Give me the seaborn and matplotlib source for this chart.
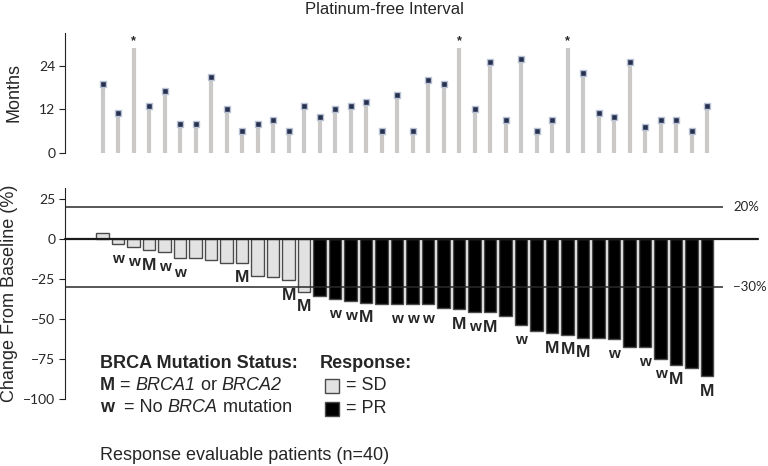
import numpy as np
import pandas as pd
import matplotlib
matplotlib.use('Agg')
import matplotlib.pyplot as plt
import seaborn as sns

# ===============================
# Data
# ===============================
patients = list(range(40))
pfi_months = [19, 11, 29, 13, 17, 8, 8, 21, 12, 6,
              8, 9, 6, 13, 10, 12, 13, 14, 6, 16,
              6, 20, 19, 29, 12, 25, 9, 26, 6, 9,
              29, 22, 11, 10, 25, 7, 9, 9, 6, 13]
pfi_ongoing = [i in (2, 23, 30) for i in patients]  # starred stems
change_pct = [4, -3, -5, -7, -8, -12, -12, -13, -15, -15,
              -23, -24, -26, -33, -36, -37.5, -39, -40, -41, -41,
              -41, -41, -43, -44, -46, -46, -48, -54, -58, -59,
              -60, -62, -62, -63, -68, -68, -75, -79, -81, -86]
response = ['SD'] * 14 + ['PR'] * 26
brca = ['', 'w', 'w', 'M', 'w', 'w', '', '', '', 'M',
        '', '', 'M', 'M', '', 'w', 'w', 'M', '', 'w',
        'w', 'w', '', 'M', 'w', 'M', '', 'w', '', 'M',
        'M', 'M', '', 'w', '', 'w', 'w', 'M', '', 'M']
ref_lines = [20, -30]
ref_labels = ['20%', '\u221230%']

df = pd.DataFrame({'patient': patients, 'pfi': pfi_months, 'ongoing': pfi_ongoing,
                   'change': change_pct, 'response': response, 'brca': brca})

# ===============================
# Style
# ===============================
sns.set_style('white')
plt.rcParams['font.family'] = ['Liberation Sans', 'DejaVu Sans']

W, H = 768, 466
fig = plt.figure(figsize=(W / 100, H / 100), dpi=100)
renderer = fig.canvas.get_renderer()

x_left, x_right = 65, 723
xlim = (-2.43, 40.02)

def px_axes(top, bottom):
    return fig.add_axes([x_left / W, 1 - bottom / H, (x_right - x_left) / W, (bottom - top) / H])

def rich_text(x_px, y_px, pieces, size=13):
    # draw text pieces one after another, each with its own style
    x = x_px
    for s, kw in pieces:
        t = fig.text(x / W, 1 - y_px / H, s, va='center', fontsize=size, **kw)
        x += t.get_window_extent(renderer).width

tick_font = {'family': ['Lato', 'DejaVu Sans'], 'size': 10}

# ===============================
# Top: platinum-free interval
# ===============================
ax1 = px_axes(33.3, 152.7)
ax1.vlines(df['patient'], 0, df['pfi'], color='#cbc8c8', linewidth=3)
marked = df[~df['ongoing']]
sns.scatterplot(data=marked, x='patient', y='pfi', marker='s', s=22, color='#27304f',
                edgecolor='#b9c3d6', linewidth=1, ax=ax1, zorder=3, legend=False)
for _, r in df[df['ongoing']].iterrows():
    ax1.text(r['patient'], r['pfi'] + 0.3, '*', ha='center', va='bottom', fontsize=9,
             fontweight='bold')
ax1.set_xlim(xlim)
ax1.set_ylim(0, 33)
ax1.set_yticks([0, 12, 24])
ax1.set_xticks([])
ax1.set_xlabel('')
ax1.set_ylabel('Months', fontsize=13, labelpad=12)
for s in ['top', 'right', 'bottom']:
    ax1.spines[s].set_visible(False)
ax1.spines['left'].set_color('#222222')
ax1.tick_params(axis='y', direction='out', length=4, left=True, color='#222222', pad=3)
for lab in ax1.get_yticklabels():
    lab.set_fontproperties(tick_font)
fig.text(384 / W, 1 - 10 / H, 'Platinum-free Interval', ha='center', va='center', fontsize=12)

# ===============================
# Bottom: waterfall of best response
# ===============================
ax2 = px_axes(188.3, 398.5)
sns.barplot(data=df, x='patient', y='change', hue='response',
            palette={'SD': '#e2e2e2', 'PR': '#000000'}, dodge=False, width=0.8,
            edgecolor='#4a4a4a', linewidth=1, legend=False, ax=ax2, zorder=2)
ax2.set_xlim(xlim)
ax2.set_ylim(-100, 31.7)
ax2.set_yticks([25, 0, -25, -50, -75, -100])
ax2.set_xticks([])
ax2.set_xlabel('')
ax2.set_ylabel('Change From Baseline (%)', fontsize=13, labelpad=4)
for s in ['top', 'right', 'bottom']:
    ax2.spines[s].set_visible(False)
ax2.spines['left'].set_color('#222222')
ax2.tick_params(axis='y', direction='out', length=4, left=True, color='#222222', pad=3)
for lab in ax2.get_yticklabels():
    lab.set_fontproperties(tick_font)

ax2.axhline(0, xmin=0, xmax=(758 - x_left) / (x_right - x_left), color='#1a1a1a',
            linewidth=1.6, clip_on=False, zorder=3)
for val, lab in zip(ref_lines, ref_labels):
    ax2.axhline(val, color='#2a2a2a', linewidth=1.1, zorder=3)
    ax2.text(1.0 + 10 / (x_right - x_left), val, lab, transform=ax2.get_yaxis_transform(),
             ha='left', va='center', fontsize=9.5, fontfamily=['Lato', 'DejaVu Sans'])

# BRCA labels below each bar
for _, r in df[df['brca'] != ''].iterrows():
    bold_m = r['brca'] == 'M'
    ax2.annotate(r['brca'], (r['patient'], min(r['change'], 0)), xytext=(0, -15),
                 textcoords='offset pixels', ha='center', va='center',
                 fontsize=12.5 if bold_m else 11, fontweight='bold')

# Key text
bold = {'fontweight': 'bold'}
ital = {'fontstyle': 'italic'}
reg = {}
rich_text(100, 363, [('BRCA Mutation Status:', bold)])
rich_text(100, 385.5, [('M', bold), (' = ', reg), ('BRCA1', ital), (' or ', reg),
                       ('BRCA2', ital)])
rich_text(100, 407, [('w', bold), ('  = No ', reg), ('BRCA', ital), (' mutation', reg)])
rich_text(320, 363, [('Response:', bold)])
for yc, face, lab in [(386, '#e2e2e2', '= SD'), (409, '#000000', '= PR')]:
    fig.patches.append(plt.Rectangle((325 / W, 1 - (yc + 7) / H), 14 / W, 14 / H,
                                     transform=fig.transFigure, facecolor=face,
                                     edgecolor='#4a4a4a', linewidth=1))
    fig.text(346 / W, 1 - (yc - 0.5) / H, lab, fontsize=13, va='center')

fig.text(100 / W, 1 - 455 / H, 'Response evaluable patients (n=40)', fontsize=13,
         va='center')

fig.savefig('out.png', dpi=100)
